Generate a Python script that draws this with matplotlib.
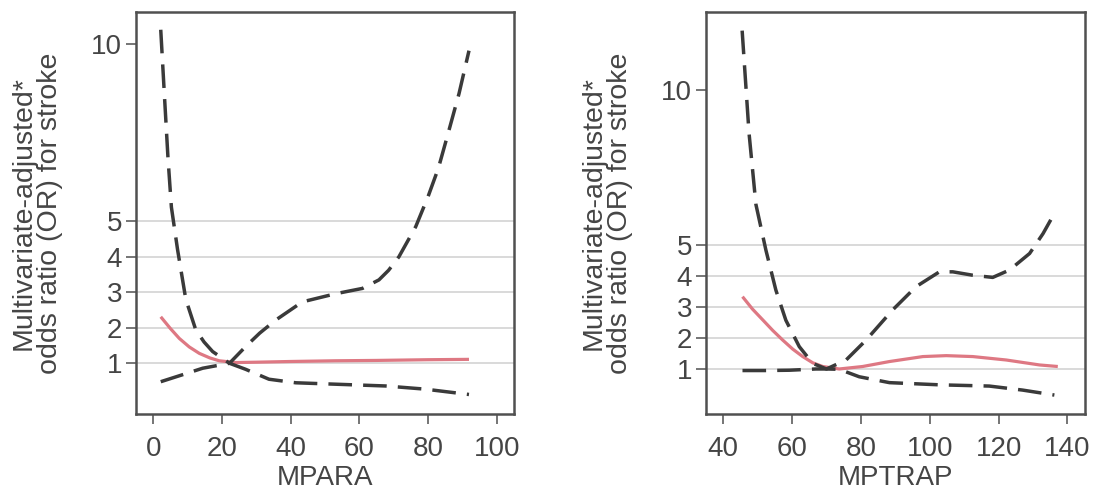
import matplotlib
matplotlib.use("Agg")
import matplotlib.pyplot as plt

plt.rcParams['font.family'] = ['Liberation Sans', 'DejaVu Sans']
plt.rcParams['lines.scale_dashes'] = False

# ---- Panel 1: MPARA ----
mpara_or_x = [2.2, 5, 7.6, 10.5, 13.4, 16.5, 19.2, 24, 30, 40, 53, 65, 80, 91.9]
mpara_or_y = [2.31, 1.98, 1.70, 1.46, 1.28, 1.15, 1.07, 1.02, 1.03, 1.05, 1.07, 1.08, 1.10, 1.11]

mpara_up_x = [2.2, 3.3, 4.3, 5.3, 7.1, 9.5, 12.4, 14.8, 17.3, 20.0, 22.2, 26.9, 31.0, 35.7, 43.4,
              53.1, 60.9, 65.7, 68.5, 71.5, 76.4, 80.0, 83.0, 85.8, 89.0, 91.9]
mpara_up_y = [10.4, 8.5, 6.8, 5.4, 4.2, 2.8, 1.94, 1.60, 1.33, 1.15, 1.0, 1.47, 1.85, 2.22, 2.73,
              2.96, 3.11, 3.35, 3.62, 4.0, 4.85, 5.7, 6.5, 7.47, 8.6, 9.81]

mpara_lo_x = [2.2, 8.0, 14.4, 22.2, 26.9, 33.7, 41.5, 53.0, 67.6, 79.2, 91.9]
mpara_lo_y = [0.48, 0.66, 0.86, 1.0, 0.83, 0.55, 0.45, 0.41, 0.36, 0.27, 0.12]

# ---- Panel 2: MPTRAP ----
mptrap_or_x = [45.6, 48.5, 51.5, 54.4, 57.3, 60.2, 63.1, 66.0, 68.9, 73.7, 80.5, 88.3, 98.0,
               104.8, 112.5, 122.2, 131.9, 137.2]
mptrap_or_y = [3.33, 2.93, 2.58, 2.24, 1.93, 1.64, 1.40, 1.20, 1.08, 1.0, 1.08, 1.24, 1.40,
               1.43, 1.40, 1.29, 1.13, 1.08]

mptrap_up_x = [45.5, 47.5, 49.5, 52.4, 55.3, 58.2, 62.1, 66.0, 70.0, 75.7, 81.5, 89.2, 96.0,
               102.8, 106.7, 112.5, 118.3, 123.2, 129.0, 132.9, 136.7]
mptrap_up_y = [11.9, 8.6, 6.3, 4.83, 3.54, 2.57, 1.72, 1.18, 1.0, 1.29, 1.93, 2.9, 3.65,
               4.13, 4.13, 4.02, 3.95, 4.19, 4.72, 5.36, 6.11]

mptrap_lo_x = [45.6, 52.0, 59.2, 66.9, 70.0, 73.7, 79.5, 88.3, 102.8, 117.3, 127.0, 136.2]
mptrap_lo_y = [0.95, 0.95, 0.96, 1.0, 1.0, 0.99, 0.75, 0.56, 0.49, 0.45, 0.32, 0.16]

ytick_vals = [1, 2, 3, 4, 5, 10]
grid_vals = [1, 2, 3, 4, 5]
xticks_1 = [0, 20, 40, 60, 80, 100]
xticks_2 = [40, 60, 80, 100, 120, 140]
ylabel_text = "Multivariate-adjusted*\nodds ratio (OR) for stroke"

TXT = '#454545'
SPINE = '#505050'
RED = '#de7883'
DASH = '#3a3a3a'
GRID = '#d0d0d0'

fig = plt.figure(figsize=(10.99, 4.97), dpi=100)
W, H = 1099, 497

def make_ax(left_px, right_px, top_px, bot_px):
    return fig.add_axes([left_px / W, 1 - bot_px / H, (right_px - left_px) / W, (bot_px - top_px) / H])

ax1 = make_ax(136, 514, 12, 414)
ax2 = make_ax(706, 1085, 12, 414)

panels = [
    (ax1, mpara_or_x, mpara_or_y, mpara_up_x, mpara_up_y, mpara_lo_x, mpara_lo_y,
     (-5, 105), (-0.43, 10.9), xticks_1, "MPARA"),
    (ax2, mptrap_or_x, mptrap_or_y, mptrap_up_x, mptrap_up_y, mptrap_lo_x, mptrap_lo_y,
     (35, 145.1), (-0.45, 12.5), xticks_2, "MPTRAP"),
]

for (ax, ox, oy, ux, uy, lx, ly, xl, yl, xt, xlab) in panels:
    for g in grid_vals:
        ax.axhline(g, color=GRID, lw=1.1, zorder=1)
    ax.plot(ox, oy, color=RED, lw=2.3, zorder=3, solid_capstyle='butt')
    ax.plot(ux, uy, color=DASH, lw=2.5, dashes=(17, 8), zorder=4)
    ax.plot(lx, ly, color=DASH, lw=2.5, dashes=(17, 8), zorder=4)
    ax.set_xlim(*xl)
    ax.set_ylim(*yl)
    ax.set_xticks(xt)
    ax.set_xticklabels([str(v) for v in xt])
    ax.set_yticks(ytick_vals)
    ax.set_yticklabels([str(v) for v in ytick_vals])
    for s in ax.spines.values():
        s.set_color(SPINE)
        s.set_linewidth(1.8)
    ax.tick_params(axis='both', colors=SPINE, labelcolor=TXT, labelsize=20, width=1.1, length=7)
    ax.tick_params(axis='x', pad=9)
    ax.tick_params(axis='y', pad=3)
    ax.set_xlabel(xlab, fontsize=20, color=TXT, labelpad=2)
    ax.set_ylabel(ylabel_text, fontsize=20.5, color=TXT, linespacing=1.02,
                  va='center', ha='center')
    ax.yaxis.set_label_coords(-0.262, 0.5)

fig.savefig("out.png", dpi=100)
